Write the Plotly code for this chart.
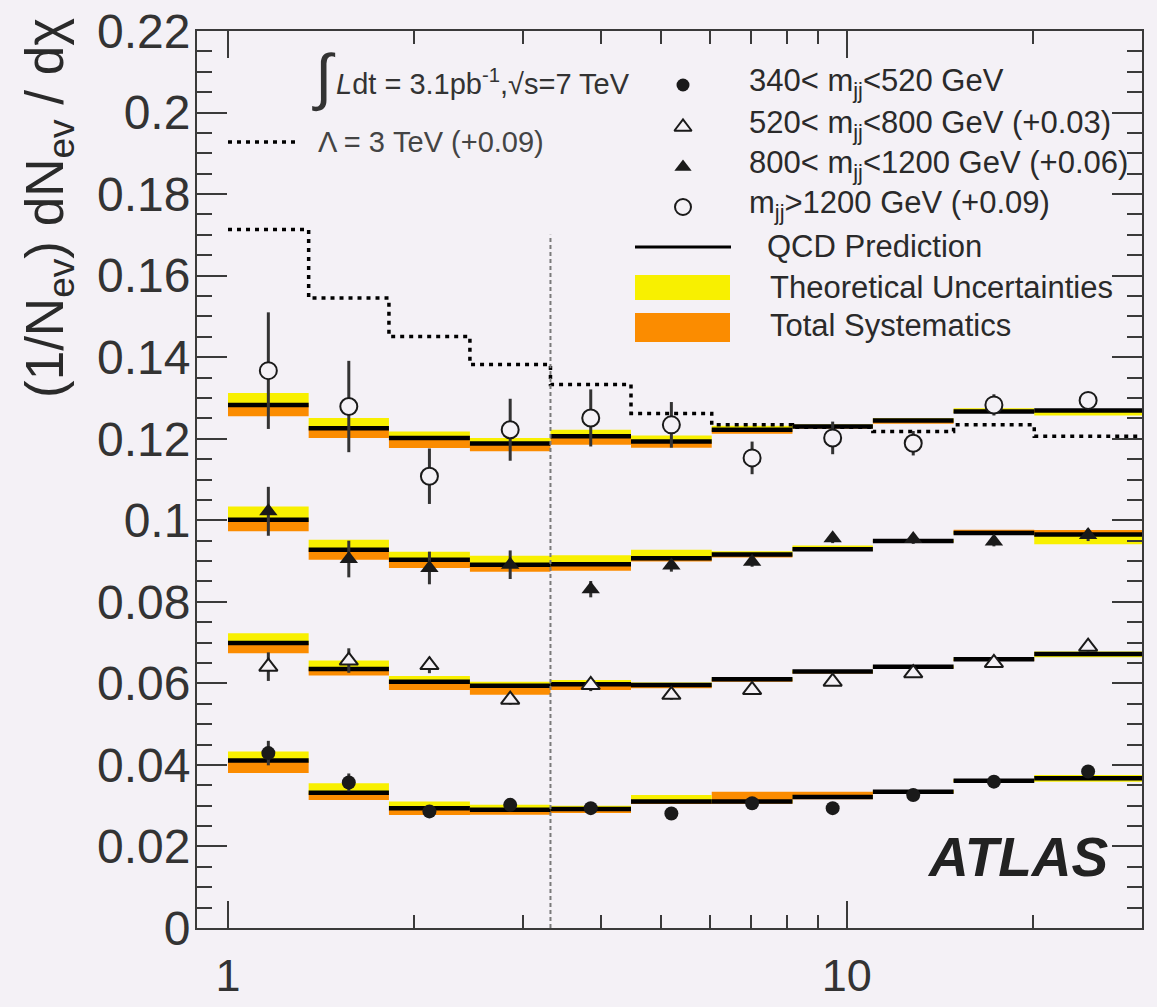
import math
import plotly.graph_objects as go

# ---------------- data ----------------
chi_edges = [1.0, 1.35, 1.82, 2.46, 3.32, 4.48, 6.05, 8.17, 11.02, 14.88, 20.09, 30.0]
x_tick_vals = [1, 10]
x_tick_text = ["1", "10"]
x_minor_vals = [2, 3, 4, 5, 6, 7, 8, 9, 20, 30]
y_tick_vals = [0, 0.02, 0.04, 0.06, 0.08, 0.1, 0.12, 0.14, 0.16, 0.18, 0.2, 0.22]
y_tick_text = ["0", "0.02", "0.04", "0.06", "0.08", "0.1", "0.12", "0.14", "0.16", "0.18", "0.2", "0.22"]

# 340 < mjj < 520 GeV (offset 0)
a_data = [0.0429, 0.0357, 0.0286, 0.0302, 0.0294, 0.0281, 0.0306, 0.0294, 0.0326, 0.0359, 0.0384]
a_err = [0.0030, 0.0022, 0.0012, 0.0012, 0.0010, 0.0010, 0.0010, 0.0010, 0.0010, 0.0010, 0.0012]
a_qcd = [0.0411, 0.0332, 0.0294, 0.0290, 0.0292, 0.0310, 0.0310, 0.0321, 0.0334, 0.0361, 0.0367]
a_theo_up = [0.0022, 0.0023, 0.0016, 0.0012, 0.0008, 0.0016, 0.0004, 0.0004, 0.0004, 0.0004, 0.0008]
a_theo_dn = [0.0003, 0.0003, 0.0003, 0.0003, 0.0003, 0.0003, 0.0003, 0.0003, 0.0003, 0.0003, 0.0008]
a_syst_up = [0.0, 0.0, 0.0, 0.0, 0.0, 0.0, 0.0024, 0.0013, 0.0003, 0.0003, 0.0]
a_syst_dn = [0.0031, 0.0018, 0.0017, 0.0012, 0.0010, 0.0006, 0.0005, 0.0005, 0.0004, 0.0003, 0.0005]

# 520 < mjj < 800 GeV (offset +0.03)
b_data = [0.0341, 0.0356, 0.0345, 0.0260, 0.0296, 0.0272, 0.0284, 0.0304, 0.0325, 0.0350, 0.0390]
b_err = [0.0035, 0.0030, 0.0020, 0.0012, 0.0015, 0.0012, 0.0010, 0.0010, 0.0010, 0.0010, 0.0012]
b_qcd = [0.0399, 0.0335, 0.0304, 0.0294, 0.0298, 0.0296, 0.0310, 0.0329, 0.0341, 0.0359, 0.0372]
b_theo_up = [0.0024, 0.0021, 0.0014, 0.0010, 0.0010, 0.0006, 0.0004, 0.0004, 0.0003, 0.0004, 0.0006]
b_theo_dn = [0.0003, 0.0003, 0.0003, 0.0003, 0.0003, 0.0003, 0.0003, 0.0003, 0.0003, 0.0003, 0.0008]
b_syst_up = [0.0, 0.0, 0.0, 0.0, 0.0008, 0.0, 0.0, 0.0, 0.0, 0.0, 0.0]
b_syst_dn = [0.0025, 0.0016, 0.0020, 0.0022, 0.0014, 0.0008, 0.0006, 0.0005, 0.0004, 0.0004, 0.0004]

# 800 < mjj < 1200 GeV (offset +0.06)
c_data = [0.0422, 0.0305, 0.0283, 0.0291, 0.0231, 0.0289, 0.0298, 0.0356, 0.0354, 0.0348, 0.0364]
c_err = [0.0060, 0.0045, 0.0040, 0.0035, 0.0020, 0.0015, 0.0012, 0.0012, 0.0012, 0.0012, 0.0015]
c_qcd = [0.0401, 0.0328, 0.0303, 0.0291, 0.0292, 0.0307, 0.0316, 0.0329, 0.0349, 0.0369, 0.0365]
c_theo_up = [0.0033, 0.0024, 0.0020, 0.0022, 0.0022, 0.0021, 0.0008, 0.0009, 0.0003, 0.0002, 0.0]
c_theo_dn = [0.0003, 0.0003, 0.0003, 0.0003, 0.0003, 0.0003, 0.0003, 0.0003, 0.0003, 0.0003, 0.0024]
c_syst_up = [0.0, 0.0, 0.0, 0.0, 0.0, 0.0, 0.0, 0.0, 0.0, 0.0008, 0.0011]
c_syst_dn = [0.0028, 0.0025, 0.0020, 0.0017, 0.0016, 0.0008, 0.0007, 0.0004, 0.0003, 0.0003, 0.0003]

# mjj > 1200 GeV (offset +0.09)
d_data = [0.0467, 0.0379, 0.0208, 0.0322, 0.0351, 0.0334, 0.0253, 0.0302, 0.0289, 0.0383, 0.0394]
d_err = [0.0143, 0.0112, 0.0068, 0.0076, 0.0070, 0.0056, 0.0040, 0.0040, 0.0030, 0.0026, 0.0018]
d_qcd = [0.0383, 0.0326, 0.0302, 0.0288, 0.0306, 0.0293, 0.0322, 0.0330, 0.0345, 0.0367, 0.0369]
d_theo_up = [0.0029, 0.0025, 0.0016, 0.0014, 0.0016, 0.0015, 0.0010, 0.0005, 0.0005, 0.0008, 0.0]
d_theo_dn = [0.0003, 0.0003, 0.0003, 0.0003, 0.0003, 0.0003, 0.0003, 0.0003, 0.0003, 0.0003, 0.0012]
d_syst_up = [0.0, 0.0, 0.0, 0.0, 0.0, 0.0, 0.0, 0.0, 0.0, 0.0, 0.0]
d_syst_dn = [0.0028, 0.0024, 0.0025, 0.0019, 0.0021, 0.0015, 0.0010, 0.0005, 0.0008, 0.0004, 0.0004]

# contact interaction Lambda = 3 TeV (offset +0.09)
lambda3_vals = [0.0813, 0.0645, 0.0551, 0.0482, 0.0433, 0.0362, 0.0334, 0.0328, 0.0318, 0.0334, 0.0306]
lambda3_offset = 0.09

# chi boundary marker (dashed vertical)
chi_boundary = 3.32
chi_boundary_top = 0.17

series_offsets = [0.0, 0.03, 0.06, 0.09]
series_labels = [
    "340&lt; m<sub>jj</sub>&lt;520 GeV",
    "520&lt; m<sub>jj</sub>&lt;800 GeV (+0.03)",
    "800&lt; m<sub>jj</sub>&lt;1200 GeV (+0.06)",
    "m<sub>jj</sub>&gt;1200 GeV (+0.09)",
]

# ---------------- style ----------------
BG = "#f4f1f6"
FONT = "Liberation Sans, Arial, Helvetica, sans-serif"
YELLOW = "#f8f000"
ORANGE = "#fb8c00"
INK = "#1a1a1a"
AXIS = "#3a3a3a"

W, H = 1157, 1007
PL, PR, PT, PB = 197, 1142, 31, 928  # plot area in pixels

series = [
    dict(data=a_data, err=a_err, qcd=a_qcd, tu=a_theo_up, td=a_theo_dn, su=a_syst_up, sd=a_syst_dn,
         off=series_offsets[0], symbol="circle", size=14, fill=INK, lw=0),
    dict(data=b_data, err=b_err, qcd=b_qcd, tu=b_theo_up, td=b_theo_dn, su=b_syst_up, sd=b_syst_dn,
         off=series_offsets[1], symbol="triangle-up", size=16, fill=BG, lw=2),
    dict(data=c_data, err=c_err, qcd=c_qcd, tu=c_theo_up, td=c_theo_dn, su=c_syst_up, sd=c_syst_dn,
         off=series_offsets[2], symbol="triangle-up", size=16, fill=INK, lw=0),
    dict(data=d_data, err=d_err, qcd=d_qcd, tu=d_theo_up, td=d_theo_dn, su=d_syst_up, sd=d_syst_dn,
         off=series_offsets[3], symbol="circle", size=17, fill=BG, lw=2),
]

centers = [math.sqrt(a * b) for a, b in zip(chi_edges[:-1], chi_edges[1:])]


def rects(lo, hi):
    xs, ys = [], []
    for i in range(len(lo)):
        a, b = chi_edges[i], chi_edges[i + 1]
        xs += [a, b, b, a, a, None]
        ys += [lo[i], lo[i], hi[i], hi[i], lo[i], None]
    return xs, ys


def segments(vals):
    xs, ys = [], []
    for i, v in enumerate(vals):
        xs += [chi_edges[i], chi_edges[i + 1], None]
        ys += [v, v, None]
    return xs, ys


def px(x):
    return (x - PL) / (PR - PL)


def py(y):
    return (PB - y) / (PB - PT)


fig = go.Figure()

# bands + QCD prediction
for s in series:
    q = [v + s["off"] for v in s["qcd"]]
    xs, ys = rects([v - d for v, d in zip(q, s["sd"])], [v + u for v, u in zip(q, s["su"])])
    fig.add_trace(go.Scatter(x=xs, y=ys, mode="lines", fill="toself", fillcolor=ORANGE,
                             line=dict(width=0, color=ORANGE), hoverinfo="skip", showlegend=False))
    xs, ys = rects([v - d for v, d in zip(q, s["td"])], [v + u for v, u in zip(q, s["tu"])])
    fig.add_trace(go.Scatter(x=xs, y=ys, mode="lines", fill="toself", fillcolor=YELLOW,
                             line=dict(width=0, color=YELLOW), hoverinfo="skip", showlegend=False))
    xs, ys = segments(q)
    fig.add_trace(go.Scatter(x=xs, y=ys, mode="lines", line=dict(color="black", width=4.5),
                             hoverinfo="skip", showlegend=False))

# Lambda = 3 TeV step curve
lam = [v + lambda3_offset for v in lambda3_vals]
fig.add_trace(go.Scatter(x=chi_edges, y=lam + [lam[-1]], mode="lines", line_shape="hv",
                         line=dict(color="black", width=3.5, dash="4px,5px"),
                         hoverinfo="skip", showlegend=False))

# chi boundary
fig.add_trace(go.Scatter(x=[chi_boundary, chi_boundary], y=[0, chi_boundary_top], mode="lines",
                         line=dict(color="#7a7a7a", width=2, dash="4px,3px"),
                         hoverinfo="skip", showlegend=False))

# data points
for s in series:
    fig.add_trace(go.Scatter(
        x=centers, y=[v + s["off"] for v in s["data"]], mode="markers",
        marker=dict(symbol=s["symbol"], size=s["size"], color=s["fill"],
                    line=dict(color=INK, width=s["lw"])),
        error_y=dict(type="data", array=s["err"], thickness=3, width=0, color="#333333"),
        showlegend=False, hoverinfo="skip"))

# ---------------- legend (pixel overlay axes) ----------------
leg_x = 683
leg_rows = [85, 127, 167, 207]
for s, yy in zip(series, leg_rows):
    fig.add_trace(go.Scatter(x=[leg_x], y=[yy], xaxis="x2", yaxis="y2", mode="markers",
                             marker=dict(symbol=s["symbol"], size=s["size"] - 1, color=s["fill"],
                                         line=dict(color=INK, width=s["lw"])),
                             showlegend=False, hoverinfo="skip"))

LEGF = dict(size=31, color="#2a2a2a", family=FONT)
ann = []
for lab, yy in zip(series_labels, leg_rows):
    ann.append(dict(x=px(747), y=py(yy - 2), xref="paper", yref="paper", text=lab, showarrow=False,
                    xanchor="left", yanchor="middle", font=LEGF))
ann += [
    dict(x=px(765), y=py(247), xref="paper", yref="paper", text="QCD Prediction", showarrow=False,
         xanchor="left", yanchor="middle", font=LEGF),
    dict(x=px(768), y=py(287), xref="paper", yref="paper", text="Theoretical Uncertainties",
         showarrow=False, xanchor="left", yanchor="middle", font=LEGF),
    dict(x=px(768), y=py(325), xref="paper", yref="paper", text="Total Systematics", showarrow=False,
         xanchor="left", yanchor="middle", font=LEGF),
    dict(x=px(316), y=py(142), xref="paper", yref="paper", text="Λ = 3 TeV (+0.09)", showarrow=False,
         xanchor="left", yanchor="middle", font=dict(size=29, color="#444444", family=FONT)),
    dict(x=px(324), y=py(77), xref="paper", yref="paper", text="∫", showarrow=False,
         xanchor="center", yanchor="middle", font=dict(size=62, color="#333333", family=FONT)),
    dict(x=px(334), y=py(82), xref="paper", yref="paper",
         text="<i>L</i>dt = 3.1pb<sup>-1</sup>,√s=7 TeV", showarrow=False,
         xanchor="left", yanchor="middle", font=dict(size=29, color="#333333", family=FONT)),
    dict(x=px(1018), y=py(857), xref="paper", yref="paper", text="<b><i>ATLAS</i></b>",
         showarrow=False, xanchor="center", yanchor="middle",
         font=dict(size=55, color="#222222", family=FONT)),
    dict(x=px(48), y=py(16), xref="paper", yref="paper",
         text="(1/N<sub>ev</sub>) dN<sub>ev</sub> / dχ", showarrow=False, textangle=-90,
         xanchor="center", yanchor="top", font=dict(size=53, color="#2a2a2a", family=FONT)),
]

shapes = [
    dict(type="line", xref="paper", yref="paper", x0=px(228), x1=px(297), y0=py(142), y1=py(142),
         line=dict(color="black", width=3.5, dash="4px,5px")),
    dict(type="line", xref="paper", yref="paper", x0=px(635), x1=px(731), y0=py(247), y1=py(247),
         line=dict(color="black", width=3)),
    dict(type="rect", xref="paper", yref="paper", x0=px(635), x1=px(730), y0=py(300), y1=py(275),
         fillcolor=YELLOW, line=dict(width=0)),
    dict(type="rect", xref="paper", yref="paper", x0=px(635), x1=px(730), y0=py(342), y1=py(313),
         fillcolor=ORANGE, line=dict(width=0)),
]

fig.update_layout(
    width=W, height=H,
    margin=dict(l=PL, r=W - PR, t=PT, b=H - PB, pad=0, autoexpand=False),
    paper_bgcolor=BG, plot_bgcolor=BG,
    font=dict(family=FONT, color="#333333"),
    showlegend=False,
    annotations=ann, shapes=shapes,
    xaxis=dict(type="log", range=[math.log10(0.891), math.log10(30.0)],
               tickmode="array", tickvals=x_tick_vals, ticktext=x_tick_text,
               ticks="inside", ticklen=27, tickwidth=2, tickcolor=AXIS,
               minor=dict(tickmode="array", tickvals=x_minor_vals, ticks="inside", ticklen=13,
                          tickwidth=2, tickcolor=AXIS, showgrid=False),
               showline=True, linecolor=AXIS, linewidth=2, mirror="ticks",
               showgrid=False, zeroline=False, automargin=False,
               tickfont=dict(size=45, color="#333333", family=FONT), ticklabelstandoff=7),
    yaxis=dict(range=[0, 0.22], tickmode="array", tickvals=y_tick_vals, ticktext=y_tick_text,
               ticks="inside", ticklen=30, tickwidth=2, tickcolor=AXIS,
               minor=dict(dtick=0.005, ticks="inside", ticklen=15, tickwidth=2,
                          tickcolor=AXIS, showgrid=False),
               showline=True, linecolor=AXIS, linewidth=2, mirror="ticks",
               showgrid=False, zeroline=False, automargin=False,
               tickfont=dict(size=48, color="#333333", family=FONT), ticklabelstandoff=-5),
    xaxis2=dict(overlaying="x", range=[PL, PR], visible=False, anchor="y2", automargin=False),
    yaxis2=dict(overlaying="y", range=[PB, PT], visible=False, anchor="x2", automargin=False),
)

fig.write_html("out.html")
